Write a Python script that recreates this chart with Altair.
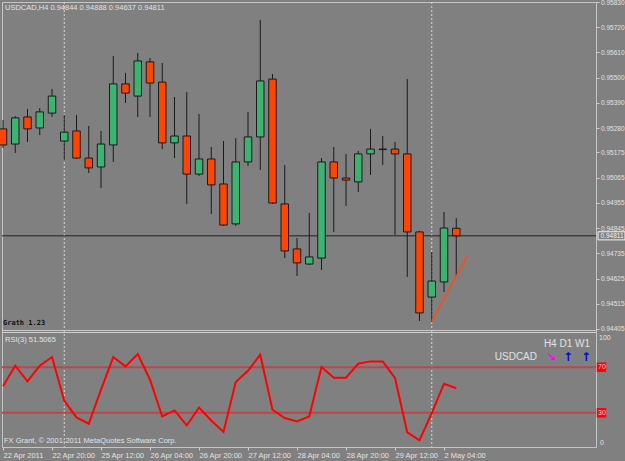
import json
import altair as alt
import pandas as pd

# ---------------- data ----------------
bar_index = list(range(38))
opens = [0.95277, 0.95211, 0.95329, 0.95281, 0.95346, 0.95224, 0.95268, 0.95150, 0.95111, 0.95207,
         0.95473, 0.95420, 0.95569, 0.95481, 0.95216, 0.95246, 0.95080, 0.95146, 0.95037, 0.94863,
         0.95133, 0.95242, 0.95494, 0.94950, 0.94754, 0.94688, 0.94714, 0.95133, 0.95063, 0.95046,
         0.95168, 0.95189, 0.95189, 0.95168, 0.94828, 0.94544, 0.94610, 0.94844]
highs = [0.95316, 0.95333, 0.95364, 0.95368, 0.95451, 0.95338, 0.95338, 0.95290, 0.95268, 0.95595,
         0.95521, 0.95608, 0.95586, 0.95564, 0.95416, 0.95438, 0.95342, 0.95198, 0.95224, 0.95237,
         0.95351, 0.95752, 0.95516, 0.95120, 0.94802, 0.94911, 0.95150, 0.95198, 0.95168, 0.95181,
         0.95277, 0.95246, 0.95220, 0.95494, 0.94832, 0.94741, 0.94915, 0.94888]
lows = [0.95194, 0.95172, 0.95220, 0.95250, 0.95329, 0.95141, 0.95146, 0.95085, 0.95019, 0.95133,
        0.95390, 0.95329, 0.95329, 0.95189, 0.95150, 0.94950, 0.95072, 0.94906, 0.94854, 0.94854,
        0.95115, 0.95098, 0.94950, 0.94714, 0.94636, 0.94684, 0.94662, 0.94828, 0.94941, 0.95002,
        0.95076, 0.95120, 0.94815, 0.94632, 0.94440, 0.94435, 0.94566, 0.94637]
closes = [0.95207, 0.95325, 0.95277, 0.95351, 0.95420, 0.95263, 0.95150, 0.95107, 0.95211, 0.95473,
          0.95433, 0.95573, 0.95477, 0.95216, 0.95246, 0.95080, 0.95146, 0.95033, 0.94858, 0.95133,
          0.95242, 0.95486, 0.94954, 0.94745, 0.94693, 0.94719, 0.95133, 0.95063, 0.95054, 0.95168,
          0.95189, 0.95187, 0.95168, 0.94828, 0.94475, 0.94614, 0.94845, 0.94811]
rsi_values = [53.2, 71.3, 57.5, 71.3, 78.9, 40.6, 26.0, 20.4, 50.3, 78.9,
              70.7, 81.6, 59.0, 26.8, 32.1, 18.9, 34.5, 23.3, 13.2, 57.0,
              66.9, 81.0, 32.7, 25.4, 22.5, 26.8, 70.2, 60.8, 60.8, 73.1,
              75.1, 75.1, 60.5, 12.8, 5.8, 29.8, 55.5, 51.51]

x_tick_bars = [0, 4, 8, 12, 16, 20, 24, 28, 32, 36]
x_tick_labels = ["22 Apr 2011", "22 Apr 20:00", "25 Apr 12:00", "26 Apr 04:00", "26 Apr 20:00",
                 "27 Apr 12:00", "28 Apr 04:00", "28 Apr 20:00", "29 Apr 12:00", "2 May 04:00"]
price_ticks = [0.95830, 0.95720, 0.95610, 0.95500, 0.95390, 0.95280, 0.95175, 0.95065,
               0.94955, 0.94845, 0.94735, 0.94625, 0.94515, 0.94405]
rsi_levels = [70, 30]
rsi_end_labels = [100, 0]
separator_bars = [5, 35]
trend_bars = [35, 37.9]
trend_prices = [0.94438, 0.94724]
current_price = 0.94811
header_text = "USDCAD,H4  0.94844 0.94888 0.94637 0.94811"
rsi_title = "RSI(3) 51.5065"
copyright_text = "FX Grant, \u00a9 2001-2011 MetaQuotes Software Corp."
grath_text = "Grath 1.23"
tf_text = "H4  D1  W1"
symbol_text = "USDCAD"

# ---------------- styles ----------------
BG = "#808080"
LIGHT = "#E2E2E2"
GREEN = "#3CB371"
ORANGE = "#FF4500"
DARK = "#1A1A1A"
FONT = "Liberation Sans"

W, H = 594, 445

xscale = alt.Scale(domain=[-1 / 12.25, 593 / 12.25], nice=False, zero=False, padding=0)
pscale = alt.Scale(domain=[0.958300 - H / 22947.0, 0.958300], nice=False, zero=False, padding=0)
rscale = alt.Scale(domain=[0, 390.35], nice=False, zero=False, padding=0)

label_map = "{" + ",".join(f'"{b}":{json.dumps(t)}' for b, t in zip(x_tick_bars, x_tick_labels)) + "}"
xaxis = alt.Axis(values=x_tick_bars, labelExpr=f"{label_map}[datum.value]", labelAlign="left",
                 labelColor=LIGHT, labelFontSize=7.5, labelFont=FONT, tickColor="#D0D0D0",
                 tickSize=3, labelPadding=1, domain=False, grid=False, title=None,
                 labelFlush=False, labelOverlap=False, labelBound=False)
paxis = alt.Axis(orient="right", values=price_ticks, format=".5f", labelColor=LIGHT,
                 labelFontSize=6.5, labelFont=FONT, tickColor="#D0D0D0", tickSize=3,
                 labelPadding=1.5, domain=False, grid=False, title=None,
                 labelOverlap=False, labelFlush=False, labelBound=False)


def X(f):
    return alt.X(f, type="quantitative", scale=xscale, axis=xaxis)


def P(f):
    return alt.Y(f, type="quantitative", scale=pscale, axis=paxis)


def R(f):
    return alt.Y(f, type="quantitative", scale=rscale, axis=None)


ohlc = pd.DataFrame({"bar": bar_index, "open": opens, "high": highs, "low": lows, "close": closes})
rsi_df = pd.DataFrame({"bar": bar_index, "rsi": rsi_values})
cur_df = pd.DataFrame({"p": [current_price], "t": [f"{current_price:.5f}"]})
trend_df = pd.DataFrame({"bar": trend_bars, "price": trend_prices})
lvl_df = pd.DataFrame({"level": rsi_levels})
sep_df = pd.DataFrame({"bar": separator_bars})
one = pd.DataFrame({"k": [0]})


def txt(s, x, y, size=7.5, color=LIGHT, align="left", font=FONT, weight="normal"):
    return alt.Chart(pd.DataFrame({"t": [s]})).mark_text(
        align=align, baseline="middle", fontSize=size, font=font, fontWeight=weight, color=color
    ).encode(x=alt.value(x), y=alt.value(y), text="t:N")


# ---------------- price panel ----------------
separators = alt.Chart(sep_df).mark_rule(color="#D6D6D6", strokeDash=[2, 2], strokeWidth=1).encode(x=X("bar"))
cur_rule = alt.Chart(cur_df).mark_rule(color="#202020", strokeWidth=1).encode(y=P("p"))
wicks = alt.Chart(ohlc).mark_rule(color=DARK, strokeWidth=1).encode(x=X("bar"), y=P("low"), y2="high")
bodies = alt.Chart(ohlc).mark_bar(size=7.5, orient="vertical", stroke=DARK, strokeWidth=1).encode(
    x=X("bar"), y=P("open"), y2="close",
    color=alt.condition("datum.close >= datum.open", alt.value(GREEN), alt.value(ORANGE)),
)
trend = alt.Chart(trend_df).mark_line(color="#FF4A1A", strokeWidth=1.5).encode(x=X("bar"), y=P("price"))
cur_box = alt.Chart(cur_df).mark_point(
    shape="M-1,-0.3H1V0.3H-1Z", size=729, filled=True, fill=BG, stroke="#F4F4F4", strokeWidth=1, opacity=1
).encode(x=alt.value(609.5), y=P("p"))
cur_txt = alt.Chart(cur_df).mark_text(align="left", baseline="middle", fontSize=6.5, font=FONT, color="#F4F4F4").encode(
    x=alt.value(598.5), y=P("p"), text="t:N")

price_layer = alt.layer(cur_rule, wicks, bodies, trend, cur_box, cur_txt)

# ---------------- RSI panel ----------------
lvl_rules = alt.Chart(lvl_df).mark_rule(color="#BE4646", strokeWidth=2).encode(y=R("level"))
rsi_line = alt.Chart(rsi_df).mark_line(color="#FF0000", strokeWidth=2).encode(x=X("bar"), y=R("rsi"))
lvl_box = alt.Chart(lvl_df).mark_point(shape="square", size=90, filled=True, color="#FF0000", opacity=1).encode(
    x=alt.value(599.5), y=R("level"))
lvl_txt = alt.Chart(lvl_df).mark_text(align="left", baseline="middle", fontSize=7, font=FONT, color="#FFD8D8").encode(
    x=alt.value(596), y=R("level"), text="level:Q")
end_df = pd.DataFrame({"v": rsi_end_labels})
top_lbl = alt.Chart(end_df).transform_filter("datum.v == 100").mark_text(
    align="left", baseline="top", fontSize=7, font=FONT, color=LIGHT, dy=1).encode(
    x=alt.value(597), y=R("v"), text="v:Q")
bot_lbl = alt.Chart(end_df).transform_filter("datum.v == 0").mark_text(
    align="left", baseline="bottom", fontSize=7, font=FONT, color=LIGHT, dy=-1).encode(
    x=alt.value(598), y=R("v"), text="v:Q")

rsi_layer = alt.layer(lvl_rules, rsi_line, lvl_box, lvl_txt, top_lbl, bot_lbl)

# ---------------- decorations ----------------
gap1 = alt.Chart(one).mark_rule(color="#C8C8C8", strokeWidth=1).encode(y=alt.value(328.5))
gap2 = alt.Chart(one).mark_rule(color="#D0D0D0", strokeWidth=1).encode(y=alt.value(330.5))

annotations = alt.layer(
    txt(header_text, 3, 6),
    txt(grath_text, 1, 321, size=7, color="#101010", font="DejaVu Sans Mono", weight="bold"),
    txt(rsi_title, 3, 338),
    txt(copyright_text, 2, 439),
    txt(tf_text, 588, 342, size=10, align="right"),
    txt(symbol_text, 535, 355, size=10, align="right"),
    txt("\u2198", 549, 355, size=12, color="#FF00FF", align="center", font="DejaVu Sans", weight="bold"),
    txt("\u2191", 566, 355, size=12, color="#0000FF", align="center", font="DejaVu Sans", weight="bold"),
    txt("\u2191", 584, 355, size=12, color="#0000FF", align="center", font="DejaVu Sans", weight="bold"),
)

chart = alt.layer(
    separators, price_layer, rsi_layer, gap1, gap2, annotations
).resolve_scale(y="independent").properties(
    width=W, height=H,
    autosize=alt.AutoSizeParams(type="none"),
    padding={"left": 2, "top": 2, "right": 29, "bottom": 14},
    background=BG,
).configure_view(stroke="#C4C4C4", strokeWidth=1)

chart.save("out.html", embed_options={"renderer": "svg", "actions": False})
